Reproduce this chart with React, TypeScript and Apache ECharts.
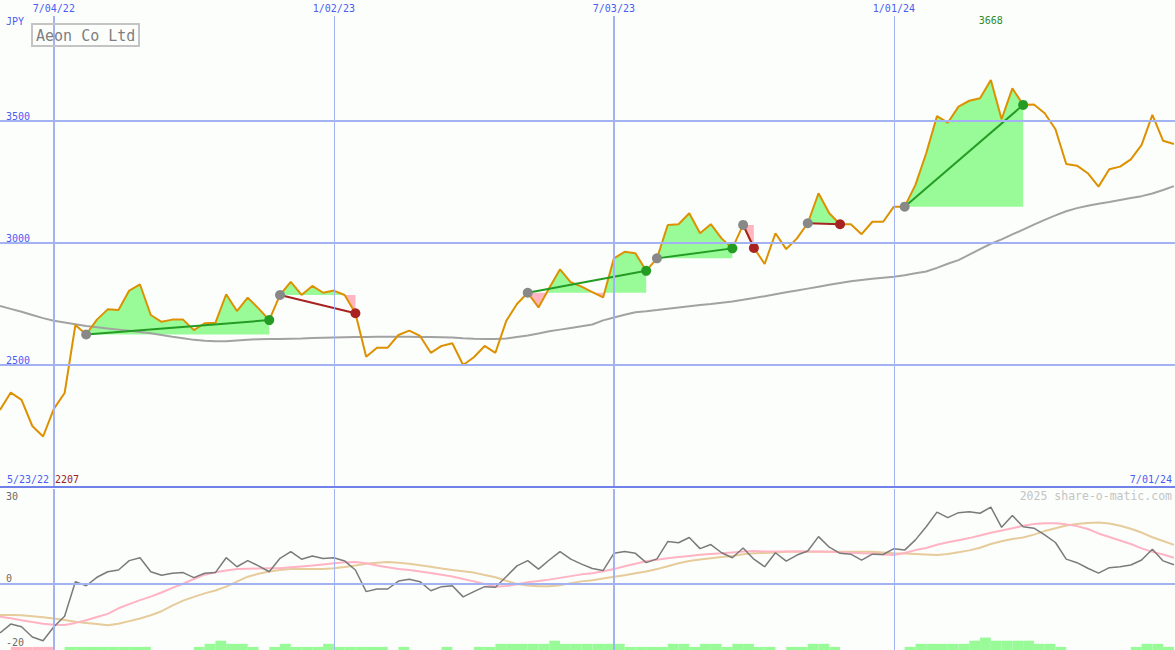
import React, { useEffect, useRef } from 'react';
import * as echarts from 'echarts';

// ---------- data (weekly, index 0 = week of 5/30/22) ----------
const price = [
  2316, 2387, 2357, 2250, 2207, 2320, 2385, 2664, 2625, 2686,
  2728, 2725, 2805, 2830, 2705, 2677, 2686, 2686, 2643, 2671,
  2673, 2790, 2721, 2776, 2732, 2684, 2787, 2841, 2787, 2824,
  2796, 2805, 2787, 2712, 2534, 2571, 2571, 2623, 2641, 2619,
  2550, 2578, 2589, 2500, 2532, 2578, 2550, 2680, 2750, 2796,
  2736, 2816, 2892, 2839, 2821, 2799, 2777, 2937, 2964, 2958,
  2886, 2937, 3074, 3077, 3122, 3040, 3077, 3019, 2978, 3074,
  2980, 2914, 3040, 2975, 3019, 3081, 3204, 3122, 3077, 3077,
  3036, 3087, 3087, 3149, 3149, 3238, 3368, 3520, 3493, 3559,
  3583, 3593, 3668, 3507, 3634, 3566, 3568, 3532, 3466, 3324,
  3317, 3286, 3231, 3302, 3313, 3343, 3402, 3525, 3419, 3406,
];

const movingAvg = [
  2742, 2730, 2718, 2705, 2692, 2681, 2674, 2667, 2660, 2655,
  2650, 2645, 2640, 2635, 2630, 2623, 2616, 2610, 2603, 2599,
  2597, 2597, 2600, 2603, 2606, 2607, 2607, 2608, 2609, 2611,
  2612, 2613, 2614, 2615, 2615, 2616, 2616, 2616, 2616, 2615,
  2615, 2614, 2613, 2610, 2608, 2607, 2607, 2609, 2615, 2621,
  2629, 2638, 2645, 2652, 2659, 2666, 2683, 2695, 2706, 2716,
  2720, 2725, 2731, 2736, 2741, 2746, 2750, 2755, 2760, 2767,
  2775, 2782, 2790, 2798, 2805, 2813, 2821, 2829, 2836, 2843,
  2848, 2853, 2858, 2862, 2868, 2876, 2883, 2898, 2915, 2930,
  2952, 2975, 2997, 3015, 3035, 3055, 3075, 3095, 3113, 3130,
  3143, 3153, 3161, 3168, 3176, 3184, 3192, 3203, 3217, 3233,
];

const oscillator = [
  -16.8, -13.8, -14.7, -18.2, -19.5, -14.7, -11.1, 0.7, -0.7, 2.2,
  4.1, 4.7, 7.9, 8.9, 4.1, 2.9, 3.6, 3.8, 2.1, 3.6,
  3.8, 8.9, 5.8, 7.9, 6.1, 4.1, 8.7, 11.0, 8.4, 9.5,
  8.6, 8.9, 7.8, 4.7, -2.7, -1.8, -1.8, 0.9, 1.5, 0.7,
  -2.4, -1.0, -0.7, -4.5, -2.7, -1.0, -1.2, 2.4, 6.1, 7.9,
  5.0, 8.1, 11.0, 8.4, 6.7, 5.2, 4.5, 10.4, 11.0, 10.4,
  7.2, 8.5, 14.4, 14.0, 15.8, 12.0, 13.4, 10.6, 8.9, 12.2,
  8.4, 5.8, 10.6, 7.7, 9.8, 11.2, 16.1, 12.5, 10.4, 10.1,
  8.1, 10.1, 10.0, 12.0, 11.5, 15.0, 19.5, 24.5, 22.6, 24.3,
  24.6, 24.1, 26.2, 19.3, 23.3, 19.5, 19.0, 16.7, 14.1, 8.4,
  7.2, 5.3, 3.6, 5.5, 5.8, 6.4, 8.1, 11.8, 7.8, 6.5,
];

const signalFast = [
  -11.3, -11.8, -12.5, -13.1, -13.7, -14.0, -14.1, -13.4, -12.5, -11.4,
  -10.3, -8.4, -7.0, -5.6, -4.4, -3.0, -1.4, 0.0, 1.6, 3.1,
  3.9, 4.5, 5.0, 5.1, 5.2, 5.3, 5.3, 5.6, 5.9, 6.2,
  6.6, 7.0, 7.3, 7.4, 7.0, 6.2, 5.6, 5.0, 4.7, 4.2,
  3.7, 3.1, 2.5, 1.6, 0.8, -0.1, -1.0, -0.8, -0.2, 0.5,
  0.9, 1.4, 2.0, 2.6, 3.2, 3.6, 4.3, 5.0, 6.0, 6.8,
  7.7, 8.2, 8.7, 9.1, 9.5, 9.9, 10.2, 10.4, 10.7, 11.0,
  11.2, 11.0, 11.0, 11.0, 11.0, 11.0, 11.0, 10.9, 10.8, 10.6,
  10.4, 10.3, 10.0, 9.8, 10.5, 11.5, 12.2, 13.3, 14.2, 14.9,
  15.6, 16.5, 17.4, 18.2, 19.0, 19.8, 20.4, 20.7, 20.7, 20.3,
  19.7, 18.7, 17.2, 16.0, 14.8, 13.6, 12.1, 10.9, 10.0, 8.9,
];

const signalSlow = [
  -10.7, -10.7, -10.8, -11.1, -11.5, -11.9, -12.4, -13.0, -13.4, -13.8,
  -14.2, -13.7, -12.8, -11.9, -10.8, -9.4, -7.5, -5.8, -4.5, -3.3,
  -2.3, -1.0, 0.7, 2.4, 3.4, 4.2, 4.7, 5.0, 5.0, 5.0,
  5.0, 5.3, 5.7, 6.2, 6.8, 7.2, 7.4, 7.2, 6.8, 6.3,
  5.8, 5.2, 4.7, 4.3, 3.8, 3.0, 2.2, 1.0, -0.1, -0.6,
  -0.9, -0.9, -0.5, 0.2, 0.8, 1.2, 1.8, 2.4, 2.9, 3.6,
  4.2, 5.0, 6.0, 7.0, 7.8, 8.3, 8.7, 9.1, 9.5, 10.1,
  10.4, 10.5, 10.7, 10.9, 11.0, 10.9, 10.9, 10.9, 10.9, 10.9,
  10.9, 10.9, 10.7, 10.4, 10.3, 10.2, 10.0, 9.8, 10.2, 10.8,
  11.4, 12.3, 13.6, 14.5, 15.3, 15.8, 16.8, 18.0, 19.0, 19.9,
  20.4, 20.8, 20.9, 20.6, 19.8, 18.8, 17.5, 15.9, 14.6, 13.3,
];

const barsUp = [
  0, 0, 0, 0, 0, 0, 1, 1, 1, 1,
  1, 1, 1, 1, 0, 0, 0, 0, 1, 2,
  3, 2, 2, 1, 0, 1, 2, 1, 1, 1,
  2, 1, 1, 1, 1, 1, 0, 1, 0, 0,
  0, 1, 0, 0, 1, 1, 2, 2, 2, 2,
  2, 3, 2, 2, 2, 2, 2, 2, 1, 1,
  1, 1, 2, 2, 1, 2, 2, 1, 2, 2,
  1, 1, 0, 1, 1, 2, 2, 1, 0, 0,
  0, 0, 0, 0, 1, 2, 2, 2, 2, 2,
  3, 4, 3, 3, 3, 3, 2, 2, 1, 0,
  0, 0, 0, 0, 0, 1, 2, 2, 1, 0,
];

const barsDown = [
  0, 1, 1, 1, 1, 0, 0, 0, 0, 0,
  0, 0, 0, 0, 0, 0, 0, 0, 0, 0,
  0, 0, 0, 0, 0, 0, 0, 0, 0, 0,
  0, 0, 0, 0, 0, 0, 0, 0, 0, 0,
  0, 0, 0, 0, 0, 0, 0, 0, 0, 0,
  0, 0, 0, 0, 0, 0, 0, 0, 0, 0,
  0, 0, 0, 0, 0, 0, 0, 0, 0, 0,
  0, 0, 0, 0, 0, 0, 0, 0, 0, 0,
  0, 0, 0, 0, 0, 0, 0, 0, 0, 0,
  0, 0, 0, 0, 0, 0, 0, 0, 0, 0,
  0, 0, 0, 0, 0, 0, 0, 0, 0, 0,
];

// trades: [entry week index, exit week index]
const tradeEntries = [8, 26, 49, 61, 69, 75, 84];
const tradeExits = [25, 33, 60, 68, 70, 78, 95];

const xTickIdx = [5, 31, 57, 83];
const xTickLabels = ['7/04/22', '1/02/23', '7/03/23', '1/01/24'];
const xTickMajor = [true, false, true, false];
const priceTicks = [2500, 3000, 3500];
const oscTickLabels = [30, 0, -20];

const titleText = 'Aeon Co Ltd';
const currency = 'JPY';
const startDate = '5/23/22';
const endDate = '7/01/24';
const watermark = '2025 share-o-matic.com';

// ---------- styles ----------
const MONO = "'DejaVu Sans Mono', 'Liberation Mono', monospace";
const BLUE = '#4b5cf2';
const GRID_LINE = '#a3b2f2';
const BG = '#fcfefc';

export default function App() {
  const ref = useRef<HTMLDivElement>(null);

  useEffect(() => {
    document.body.style.margin = '0';
    const chart = echarts.init(ref.current!, undefined, { renderer: 'svg' });
    const n = price.length;
    const xMax = n - 1 + 0.1;

    const trades = tradeEntries.map((e, k) => [e, price[e], tradeExits[k], price[tradeExits[k]]]);

    const vLineData = (withLabel: boolean) =>
      xTickIdx.map((t, k) => ({
        xAxis: t,
        lineStyle: { color: GRID_LINE, width: xTickMajor[k] ? 2 : 1, type: 'solid' },
        label: withLabel
          ? { show: true, position: 'end', formatter: xTickLabels[k], color: BLUE, fontFamily: MONO, fontSize: 10, distance: 3 }
          : { show: false },
      }));

    const hLineData = priceTicks.map((v) => ({
      yAxis: v,
      lineStyle: { color: GRID_LINE, width: 2, type: 'solid' },
      label: { show: false },
    }));

    const xAxisCommon = { type: 'value', min: 0, max: xMax, axisLabel: { show: false }, axisTick: { show: false }, splitLine: { show: false } };

    const option: any = {
      animation: false,
      backgroundColor: BG,
      title: {
        text: titleText,
        left: 32,
        top: 24,
        padding: [3, 4, 2, 4],
        borderColor: '#c4c4c4',
        borderWidth: 2,
        textStyle: { fontFamily: MONO, fontSize: 15, fontWeight: 'normal', color: '#7f7f7f', lineHeight: 17 },
      },
      grid: [
        { left: 0, right: 0, top: 16, height: 471 },
        { left: 0, right: 0, top: 496, height: 146.2 },
        { left: 0, right: 0, top: 489, height: 161 },
      ],
      xAxis: [
        { ...xAxisCommon, gridIndex: 0, z: 5, axisLine: { show: true, onZero: false, lineStyle: { color: '#7181ea', width: 2 } } },
        { ...xAxisCommon, gridIndex: 1, show: false },
        { ...xAxisCommon, gridIndex: 2, show: false },
      ],
      yAxis: [
        {
          type: 'value', gridIndex: 0, min: 2000, max: 2000 + 471 / 0.244, interval: 500,
          axisLine: { show: false }, axisTick: { show: false }, splitLine: { show: false },
          axisLabel: {
            inside: true, margin: 6, verticalAlign: 'bottom', color: BLUE, fontFamily: MONO, fontSize: 10,
            formatter: (v: number) => (priceTicks.indexOf(v) >= 0 ? String(v) : ''),
          },
        },
        {
          type: 'value', gridIndex: 1, min: -20, max: 30, interval: 10,
          axisLine: { show: false }, axisTick: { show: false }, splitLine: { show: false },
          axisLabel: {
            inside: true, margin: 6, verticalAlign: 'middle', color: '#6a6a6a', fontFamily: MONO, fontSize: 10,
            formatter: (v: number) => (oscTickLabels.indexOf(v) < 0 ? '' : v === 0 ? '{z|0}' : String(v)),
            rich: { z: { padding: [0, 0, 11, 0], color: '#6a6a6a', fontFamily: MONO, fontSize: 10 } },
          },
        },
        { type: 'value', gridIndex: 2, min: 0, max: 161 / 3.1, show: false },
      ],
      series: [
        // grid lines + date labels (top panel)
        {
          type: 'line', xAxisIndex: 0, yAxisIndex: 0, data: [[0, 2000]], symbol: 'none', silent: true, z: 0,
          lineStyle: { opacity: 0 },
          markLine: { silent: true, symbol: ['none', 'none'], data: [...hLineData, ...vLineData(true)] },
        },
        // trade fills
        {
          type: 'custom', xAxisIndex: 0, yAxisIndex: 0, z: 1, silent: true,
          data: trades, encode: { x: [0, 2], y: [1, 3] },
          renderItem: (params: any, api: any) => {
            const e = tradeEntries[params.dataIndex];
            const x = tradeExits[params.dataIndex];
            const base = price[e];
            const mk = (sign: number) => {
              const pts: number[][] = [[e, base]];
              for (let i = e; i <= x; i++) {
                if (i > e) {
                  const a = price[i - 1] - base;
                  const b = price[i] - base;
                  if (a * b < 0) pts.push([i - 1 + a / (a - b), base]);
                }
                const v = price[i];
                pts.push([i, sign > 0 ? Math.max(v, base) : Math.min(v, base)]);
              }
              pts.push([x, base]);
              return pts.map((p) => api.coord(p));
            };
            return {
              type: 'group',
              children: [
                { type: 'polygon', shape: { points: mk(1) }, style: { fill: '#98fb98' } },
                { type: 'polygon', shape: { points: mk(-1) }, style: { fill: '#ffb6c1' } },
              ],
            };
          },
        },
        // moving average
        {
          type: 'line', xAxisIndex: 0, yAxisIndex: 0, z: 2, silent: true, symbol: 'none',
          data: movingAvg.map((v, i) => [i, v]),
          lineStyle: { color: '#a2a2a2', width: 2 },
        },
        // price
        {
          type: 'line', xAxisIndex: 0, yAxisIndex: 0, z: 3, silent: true, symbol: 'none',
          data: price.map((v, i) => [i, v]),
          lineStyle: { color: '#dd9100', width: 2 },
        },
        // trade lines and markers
        {
          type: 'custom', xAxisIndex: 0, yAxisIndex: 0, z: 4, silent: true,
          data: trades, encode: { x: [0, 2], y: [1, 3] },
          renderItem: (params: any, api: any) => {
            const e = tradeEntries[params.dataIndex];
            const x = tradeExits[params.dataIndex];
            const p0 = api.coord([e, price[e]]);
            const p1 = api.coord([x, price[x]]);
            const win = price[x] >= price[e];
            const col = win ? '#249c24' : '#a82222';
            return {
              type: 'group',
              children: [
                { type: 'line', shape: { x1: p0[0], y1: p0[1], x2: p1[0], y2: p1[1] }, style: { stroke: col, lineWidth: 2 } },
                { type: 'circle', shape: { cx: p0[0], cy: p0[1], r: 5 }, style: { fill: '#888888' } },
                { type: 'circle', shape: { cx: p1[0], cy: p1[1], r: 5 }, style: { fill: col } },
              ],
            };
          },
        },
        // bottom panel vertical lines
        {
          type: 'line', xAxisIndex: 2, yAxisIndex: 2, data: [[0, 0]], symbol: 'none', silent: true, z: 0,
          lineStyle: { opacity: 0 },
          markLine: { silent: true, symbol: ['none', 'none'], data: vLineData(false) },
        },
        // zero line
        {
          type: 'line', xAxisIndex: 1, yAxisIndex: 1, data: [[0, 0]], symbol: 'none', silent: true, z: 0,
          lineStyle: { opacity: 0 },
          markLine: {
            silent: true, symbol: ['none', 'none'], label: { show: false },
            data: [{ yAxis: 0, lineStyle: { color: GRID_LINE, width: 2, type: 'solid' } }],
          },
        },
        // histogram bars
        {
          type: 'custom', xAxisIndex: 2, yAxisIndex: 2, z: 1, silent: true,
          data: barsUp.map((v, i) => [i, v, barsDown[i]]),
          renderItem: (params: any, api: any) => {
            const i = api.value(0);
            const up = api.value(1);
            const dn = api.value(2);
            const lvl = up > 0 ? up : dn;
            if (!lvl) return null;
            const a = api.coord([i, lvl]);
            const b = api.coord([i + 1, 0]);
            return {
              type: 'rect',
              shape: { x: a[0], y: a[1], width: b[0] - a[0], height: b[1] - a[1] },
              style: { fill: up > 0 ? '#98fb98' : '#ffb6c1' },
            };
          },
        },
        // indicator lines
        {
          type: 'line', xAxisIndex: 1, yAxisIndex: 1, z: 2, silent: true, symbol: 'none',
          data: signalSlow.map((v, i) => [i, v]),
          lineStyle: { color: '#e6cb9b', width: 2 },
        },
        {
          type: 'line', xAxisIndex: 1, yAxisIndex: 1, z: 3, silent: true, symbol: 'none',
          data: signalFast.map((v, i) => [i, v]),
          lineStyle: { color: '#ffb3c3', width: 2 },
        },
        {
          type: 'line', xAxisIndex: 1, yAxisIndex: 1, z: 4, silent: true, symbol: 'none',
          data: oscillator.map((v, i) => [i, v]),
          lineStyle: { color: '#7a7a7a', width: 1.5 },
        },
      ],
    };

    chart.setOption(option);

    const maxVal = Math.max(...price);
    const minVal = Math.min(...price);
    const maxIdx = price.indexOf(maxVal);
    const maxX = chart.convertToPixel({ xAxisIndex: 0 }, maxIdx) as unknown as number;
    const font = `10px ${MONO}`;

    chart.setOption({
      graphic: [
        { type: 'text', x: 6, y: 21, z: 10, style: { text: currency, fill: BLUE, font, align: 'left', verticalAlign: 'middle' } },
        { type: 'text', x: maxX, y: 20, z: 10, style: { text: String(maxVal), fill: '#2a8a2a', font, align: 'center', verticalAlign: 'middle' } },
        { type: 'text', x: 7, y: 479, z: 10, style: { text: startDate, fill: BLUE, font, align: 'left', verticalAlign: 'middle' } },
        { type: 'text', x: 55, y: 479, z: 10, style: { text: String(minVal), fill: '#a02020', font, align: 'left', verticalAlign: 'middle' } },
        { type: 'text', x: 1172, y: 479, z: 10, style: { text: endDate, fill: BLUE, font, align: 'right', verticalAlign: 'middle' } },
        { type: 'text', x: 1172, y: 496, z: 10, style: { text: watermark, fill: '#c4c4c4', font: `11.5px ${MONO}`, align: 'right', verticalAlign: 'middle' } },
      ],
    });

    return () => chart.dispose();
  }, []);

  return <div ref={ref} style={{ width: 1175, height: 650 }} />;
}
